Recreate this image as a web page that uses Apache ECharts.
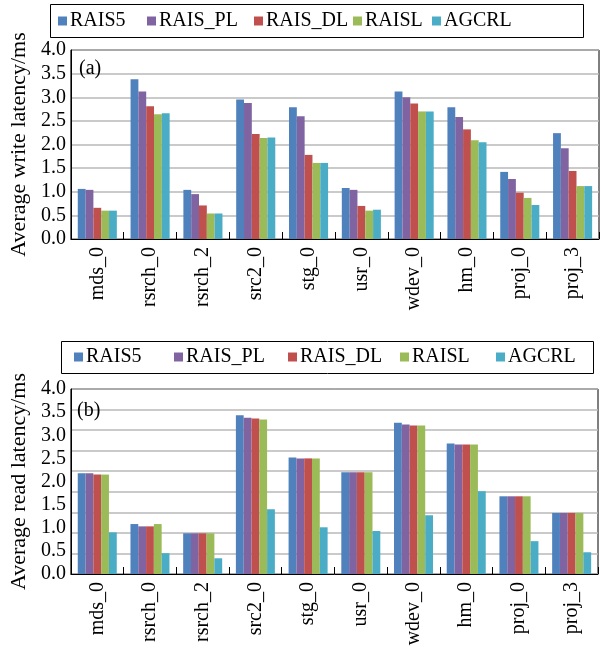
<!DOCTYPE html>
<html>
<head>
<meta charset="utf-8">
<script src="https://cdn.jsdelivr.net/npm/echarts@6/dist/echarts.min.js"></script>
<style>
  html, body { margin: 0; padding: 0; background: #fff; }
  #chart { width: 601px; height: 650px; }
</style>
</head>
<body>
<div id="chart"></div>
<script>
// Traces on the category axis
const traces = ['mds_0', 'rsrch_0', 'rsrch_2', 'src2_0', 'stg_0', 'usr_0', 'wdev_0', 'hm_0', 'proj_0', 'proj_3'];
const schemes = ['RAIS5', 'RAIS_PL', 'RAIS_DL', 'RAISL', 'AGCRL'];
const yTicks = ['0.0', '0.5', '1.0', '1.5', '2.0', '2.5', '3.0', '3.5', '4.0'];

// (a) average write latency (ms)
const writeRAIS5  = [1.06, 3.38, 1.04, 2.95, 2.79, 1.08, 3.12, 2.79, 1.42, 2.24];
const writeRAISPL = [1.04, 3.12, 0.95, 2.88, 2.60, 1.04, 3.00, 2.58, 1.27, 1.92];
const writeRAISDL = [0.66, 2.81, 0.71, 2.22, 1.78, 0.70, 2.87, 2.32, 0.98, 1.44];
const writeRAISL  = [0.60, 2.64, 0.54, 2.14, 1.61, 0.60, 2.70, 2.09, 0.87, 1.12];
const writeAGCRL  = [0.60, 2.66, 0.54, 2.15, 1.61, 0.62, 2.70, 2.05, 0.72, 1.12];

// (b) average read latency (ms)
const readRAIS5  = [2.18, 1.08, 0.88, 3.43, 2.52, 2.20, 3.27, 2.82, 1.68, 1.32];
const readRAISPL = [2.18, 1.03, 0.88, 3.38, 2.50, 2.20, 3.23, 2.80, 1.68, 1.32];
const readRAISDL = [2.15, 1.03, 0.88, 3.36, 2.50, 2.20, 3.21, 2.80, 1.68, 1.32];
const readRAISL  = [2.15, 1.08, 0.88, 3.34, 2.50, 2.20, 3.21, 2.80, 1.68, 1.32];
const readAGCRL  = [0.90, 0.45, 0.34, 1.40, 1.01, 0.93, 1.27, 1.79, 0.71, 0.47];

const colors = ['#4F81BD', '#8064A2', '#C0504D', '#9BBB59', '#4BACC6'];
const FONT = "'Liberation Serif', 'Times New Roman', serif";

const writeData = [writeRAIS5, writeRAISPL, writeRAISDL, writeRAISL, writeAGCRL];
const readData = [readRAIS5, readRAISPL, readRAISDL, readRAISL, readAGCRL];

const txt = { fontFamily: FONT, fontSize: 20, color: '#000' };
const nameTxt = { fontFamily: FONT, fontSize: 22, color: '#000' };

function xAxis(gridIndex) {
  return {
    type: 'category', gridIndex, data: traces,
    axisLine: { lineStyle: { color: '#000', width: 1 } },
    axisTick: { show: true, inside: true, length: 7, lineStyle: { color: '#000' } },
    axisLabel: Object.assign({ rotate: 90, interval: 0, margin: 8 }, txt),
    splitLine: { show: false }
  };
}

function legendRow(xs, top) {
  return schemes.map((name, i) => ({
    data: [name], left: xs[i], top, padding: 0,
    icon: 'rect', itemWidth: 9, itemHeight: 9, itemGap: 0,
    textStyle: Object.assign({ padding: [0, 0, 0, -2] }, txt)
  }));
}

const series = [];
schemes.forEach((name, i) => {
  series.push({
    name, type: 'bar', xAxisIndex: 0, yAxisIndex: 0, data: writeData[i],
    itemStyle: { color: colors[i] }, barGap: '0%', barCategoryGap: '26%'
  });
});
schemes.forEach((name, i) => {
  series.push({
    name, type: 'bar', xAxisIndex: 1, yAxisIndex: 1, data: readData[i],
    itemStyle: { color: colors[i] }, barGap: '0%', barCategoryGap: '26%'
  });
});

const option = {
  animation: false,
  backgroundColor: '#fff',
  title: [
    { text: '(a)', left: 79, top: 59, padding: 0, textStyle: Object.assign({ fontWeight: 'normal' }, txt) },
    { text: '(b)', left: 77, top: 401, padding: 0, textStyle: Object.assign({ fontWeight: 'normal' }, txt) }
  ],
  legend: legendRow([58, 147, 254, 353, 432], 11).concat(legendRow([74, 174, 288, 400, 496], 347)),
  graphic: [
    { type: 'rect', shape: { x: 50.5, y: 4.5, width: 533, height: 33 }, style: { fill: 'none', stroke: '#000', lineWidth: 1 } },
    { type: 'rect', shape: { x: 61.5, y: 341.5, width: 532, height: 32 }, style: { fill: 'none', stroke: '#000', lineWidth: 1 } }
  ],
  grid: [
    { left: 68, top: 50, width: 531, height: 189, show: true, borderColor: '#000', borderWidth: 1, backgroundColor: 'transparent' },
    { left: 68, top: 389, width: 530, height: 185, show: true, borderColor: '#000', borderWidth: 1, backgroundColor: 'transparent' }
  ],
  xAxis: [xAxis(0), xAxis(1)],
  yAxis: [
    {
      type: 'value', gridIndex: 0, min: 0, max: 4, interval: 0.5,
      name: 'Average write latency/ms', nameLocation: 'middle', nameGap: 38,
      nameTextStyle: nameTxt,
      axisLine: { show: true, lineStyle: { color: '#000' } },
      axisTick: { show: false },
      axisLabel: Object.assign({ margin: 5, formatter: (v) => yTicks[Math.round(v / 0.5)] }, txt),
      splitLine: { lineStyle: { color: '#b8b8b8', width: 1.5 } }
    },
    {
      type: 'value', gridIndex: 1, min: 0, max: 4, interval: 0.5,
      name: 'Average read latency/ms', nameLocation: 'middle', nameGap: 38,
      nameTextStyle: nameTxt,
      axisLine: { show: true, lineStyle: { color: '#000' } },
      axisTick: { show: false },
      axisLabel: Object.assign({ margin: 5, formatter: (v) => yTicks[Math.round(v / 0.5)] }, txt),
      splitLine: { show: false }
    },
    {
      // finer gridlines of panel (b)
      type: 'value', gridIndex: 1, position: 'left', min: 0, max: 4, interval: 4 / 9,
      axisLine: { show: false }, axisTick: { show: false }, axisLabel: { show: false },
      splitLine: { lineStyle: { color: '#b8b8b8', width: 1.5 } }
    }
  ],
  series
};

const chart = echarts.init(document.getElementById('chart'), null, { renderer: 'canvas' });
chart.setOption(option);
</script>
</body>
</html>
